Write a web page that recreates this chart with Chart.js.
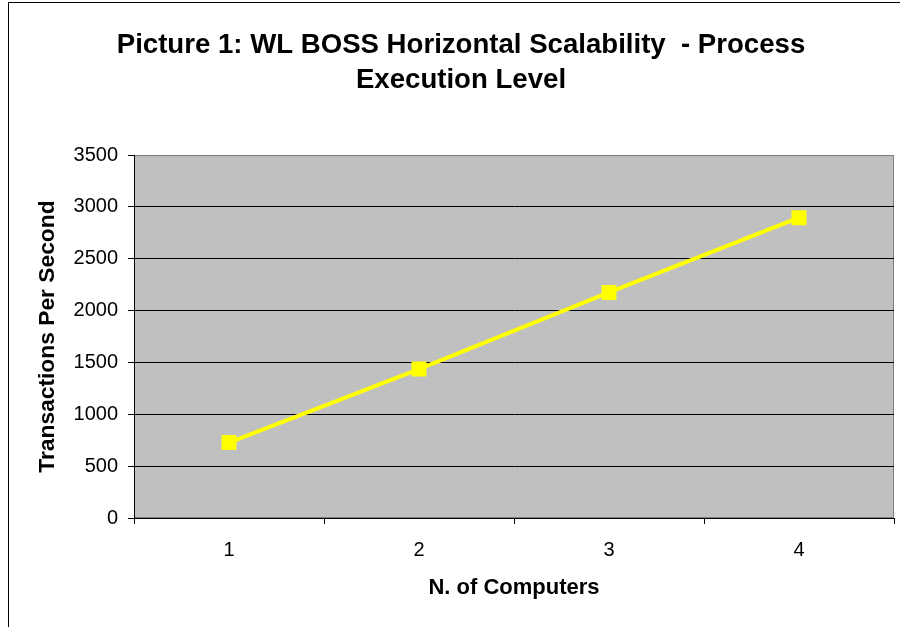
<!DOCTYPE html>
<html>
<head>
<meta charset="utf-8">
<script src="https://cdn.jsdelivr.net/npm/chart.js@4/dist/chart.umd.min.js"></script>
<style>
  html, body { margin: 0; padding: 0; background: #fff; overflow: hidden; }
  #wrap { position: relative; width: 900px; height: 627px; }
  #frame {
    position: absolute; left: 8px; top: 2px; width: 1000px; height: 1000px;
    border: 1px solid #000; box-sizing: border-box; pointer-events: none;
  }
</style>
</head>
<body>
<div id="wrap">
  <canvas id="scaleChart" width="900" height="627"></canvas>
  <div id="frame"></div>
</div>
<script>
// data
const computers = ["1", "2", "3", "4"];
const transactionsPerSecond = [728, 1436, 2176, 2896];
const chartTitle = ["Picture 1: WL BOSS Horizontal Scalability  - Process", "Execution Level"];

// grey plot background with a grey frame, like the old Excel charts
const plotBackground = {
  id: "plotBackground",
  beforeDraw(chart) {
    const { ctx, chartArea } = chart;
    ctx.save();
    ctx.fillStyle = "#c0c0c0";
    ctx.fillRect(chartArea.left, chartArea.top, chartArea.right - chartArea.left, chartArea.bottom - chartArea.top);
    ctx.strokeStyle = "#808080";
    ctx.lineWidth = 1;
    ctx.strokeRect(chartArea.left + 0.5, chartArea.top + 0.5, chartArea.right - chartArea.left - 1, chartArea.bottom - chartArea.top - 1);
    ctx.restore();
  },
};

const font = "'Liberation Sans', Arial, sans-serif";

const ctx = document.getElementById("scaleChart").getContext("2d");
new Chart(ctx, {
  type: "line",
  data: {
    labels: computers,
    datasets: [
      {
        label: "Transactions Per Second",
        data: transactionsPerSecond,
        borderColor: "#ffff00",
        backgroundColor: "#ffff00",
        borderWidth: 4,
        pointStyle: "rect",
        pointRadius: 10.6,
        pointHoverRadius: 10.6,
        pointBorderWidth: 0,
        tension: 0,
      },
    ],
  },
  options: {
    responsive: false,
    animation: false,
    events: [],
    layout: { autoPadding: false, padding: { left: 28, right: 6, top: 0, bottom: 0 } },
    plugins: {
      legend: { display: false },
      tooltip: { enabled: false },
      title: {
        display: true,
        text: chartTitle,
        color: "#000",
        font: { family: font, size: 27.6, weight: "bold", lineHeight: 1.27 },
        padding: { top: 27.5, bottom: 57.5 },
      },
    },
    scales: {
      x: {
        offset: true,
        afterFit: (scale) => {
          scale.height = 109;
          scale.paddingLeft = 0;
          scale.paddingRight = 0;
        },
        border: { display: true, color: "#000", width: 1 },
        grid: { offset: true, drawOnChartArea: false, tickLength: 6, tickColor: "#000" },
        ticks: {
          color: "#000",
          padding: 14,
          font: { family: font, size: 20 },
        },
        title: {
          display: true,
          text: "N. of Computers",
          color: "#000",
          font: { family: font, size: 22, weight: "bold" },
          padding: { top: 0, bottom: 26 },
        },
      },
      y: {
        min: 0,
        max: 3500,
        afterFit: (scale) => { scale.width = 106; },
        border: { display: true, color: "#000", width: 1 },
        grid: {
          tickLength: 6,
          tickColor: "#000",
          color: (c) => (c.tick && c.tick.value === 3500 ? "#808080" : "#000"),
        },
        ticks: {
          stepSize: 500,
          color: "#000",
          padding: 10,
          font: { family: font, size: 20 },
          callback: (value) => String(value),
        },
        title: {
          display: true,
          text: "Transactions Per Second",
          color: "#000",
          font: { family: font, size: 22.8, weight: "bold" },
          padding: { top: 6, bottom: 0 },
        },
      },
    },
  },
  plugins: [plotBackground],
});
</script>
</body>
</html>
